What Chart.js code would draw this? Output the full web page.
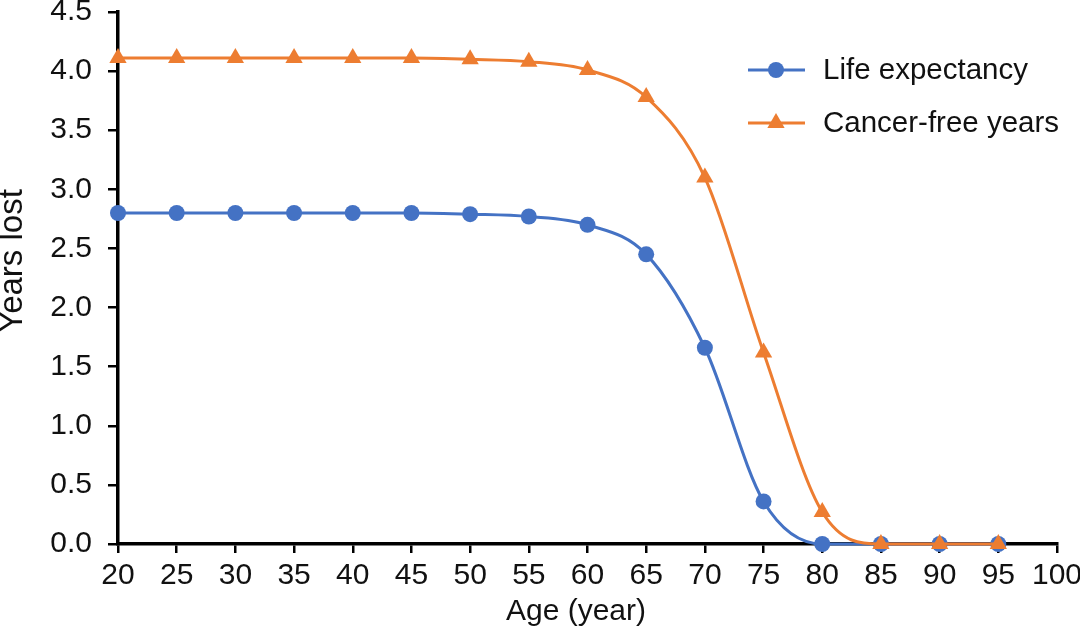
<!DOCTYPE html>
<html><head><meta charset="utf-8">
<script src="https://cdn.jsdelivr.net/npm/chart.js@4.4.1/dist/chart.umd.min.js"></script>
<style>html,body{margin:0;padding:0;background:#fff;overflow:hidden}canvas{display:block}</style>
</head><body>
<canvas id="c" width="1080" height="629"></canvas>
<script>
// ---- data ----
const ages = [20, 25, 30, 35, 40, 45, 50, 55, 60, 65, 70, 75, 80, 85, 90, 95];
const lifeExpectancy = [2.80, 2.80, 2.80, 2.80, 2.80, 2.80, 2.79, 2.77, 2.70, 2.45, 1.66, 0.36, 0, 0, 0, 0];
const cancerFreeYears = [4.11, 4.11, 4.11, 4.11, 4.11, 4.11, 4.10, 4.08, 4.01, 3.78, 3.10, 1.62, 0.27, 0, 0, 0];
const seriesNames = ['Life expectancy', 'Cancer-free years'];
const xTickValues = [20, 25, 30, 35, 40, 45, 50, 55, 60, 65, 70, 75, 80, 85, 90, 95, 100];
const yTickValues = [0, 0.5, 1.0, 1.5, 2.0, 2.5, 3.0, 3.5, 4.0, 4.5];
const xTitle = 'Age (year)';
const yTitle = 'Years lost';

// ---- styles ----
const BLUE = '#4472C4';
const ORANGE = '#ED7D31';
const FONT = '"Liberation Sans", Arial, sans-serif';
const TEXT = '#111111';

const toPoints = vals => ages.map((a, i) => ({x: a, y: vals[i]}));

const overlay = {
  id: 'overlay',
  afterDraw(chart) {
    const ctx = chart.ctx;
    ctx.save();
    ctx.fillStyle = TEXT;
    // axis titles
    ctx.font = '30px ' + FONT;
    ctx.textAlign = 'center';
    ctx.textBaseline = 'middle';
    ctx.fillText(xTitle, 576, 612);
    ctx.save();
    ctx.translate(13, 261);
    ctx.rotate(-Math.PI / 2);
    ctx.font = '33px ' + FONT;
    ctx.fillText(yTitle, 0, 0);
    ctx.restore();
    // legend
    ctx.font = '29.5px ' + FONT;
    const rows = [70, 123];
    chart.data.datasets.forEach((ds, i) => {
      const y = rows[i];
      ctx.strokeStyle = ds.borderColor;
      ctx.lineWidth = 3;
      ctx.beginPath();
      ctx.moveTo(748, y);
      ctx.lineTo(805, y);
      ctx.stroke();
      ctx.fillStyle = ds.backgroundColor;
      ctx.beginPath();
      const r = ds.pointRadius;
      if (ds.pointStyle === 'circle') {
        ctx.arc(776, y, r, 0, Math.PI * 2);
      } else {
        ctx.moveTo(776, y - r);
        ctx.lineTo(776 + r * 0.866, y + r * 0.5);
        ctx.lineTo(776 - r * 0.866, y + r * 0.5);
        ctx.closePath();
      }
      ctx.fill();
      ctx.fillStyle = TEXT;
      ctx.textAlign = 'left';
      ctx.textBaseline = 'middle';
      ctx.fillText(ds.label, 823, y + 1);
    });
    ctx.restore();
  }
};

new Chart(document.getElementById('c'), {
  type: 'line',
  data: {
    datasets: [
      {
        label: seriesNames[0],
        data: toPoints(lifeExpectancy),
        borderColor: BLUE,
        backgroundColor: BLUE,
        borderWidth: 3,
        pointStyle: 'circle',
        pointRadius: 8,
        pointBorderWidth: 0,
        cubicInterpolationMode: 'monotone',
        clip: false,
        order: 1
      },
      {
        label: seriesNames[1],
        data: toPoints(cancerFreeYears),
        borderColor: ORANGE,
        backgroundColor: ORANGE,
        borderWidth: 3,
        pointStyle: 'triangle',
        pointRadius: 10,
        pointBorderWidth: 0,
        cubicInterpolationMode: 'monotone',
        clip: false,
        order: 0
      }
    ]
  },
  options: {
    responsive: false,
    animation: false,
    devicePixelRatio: 1,
    layout: {padding: {top: 12, right: 23, left: 0, bottom: 0}},
    plugins: {legend: {display: false}, tooltip: {enabled: false}},
    scales: {
      x: {
        type: 'linear',
        min: 20, max: 100,
        afterBuildTicks(s) { s.ticks = xTickValues.map(v => ({value: v})); },
        afterFit(s) { s.height = 85; s.paddingLeft = 0; s.paddingRight = 0; s.paddingTop = 0; s.paddingBottom = 0; },
        border: {display: true, color: '#000', width: 3.5},
        grid: {drawOnChartArea: false, drawTicks: true, tickLength: 9, color: '#000', lineWidth: 2.5},
        ticks: {font: {family: FONT, size: 30}, color: TEXT, padding: 5, maxRotation: 0, autoSkip: false,
                callback: v => String(v)}
      },
      y: {
        min: 0, max: 4.5,
        afterBuildTicks(s) { s.ticks = yTickValues.map(v => ({value: v})); },
        afterFit(s) { s.width = 118; s.paddingLeft = 0; s.paddingRight = 0; s.paddingTop = 0; s.paddingBottom = 0; },
        border: {display: true, color: '#000', width: 3.5},
        grid: {drawOnChartArea: false, drawTicks: true, tickLength: 10, color: '#000', lineWidth: 2.5},
        ticks: {font: {family: FONT, size: 30}, color: TEXT, padding: 16, autoSkip: false,
                callback: v => Number(v).toFixed(1)}
      }
    }
  },
  plugins: [overlay]
});
</script>
</body></html>
